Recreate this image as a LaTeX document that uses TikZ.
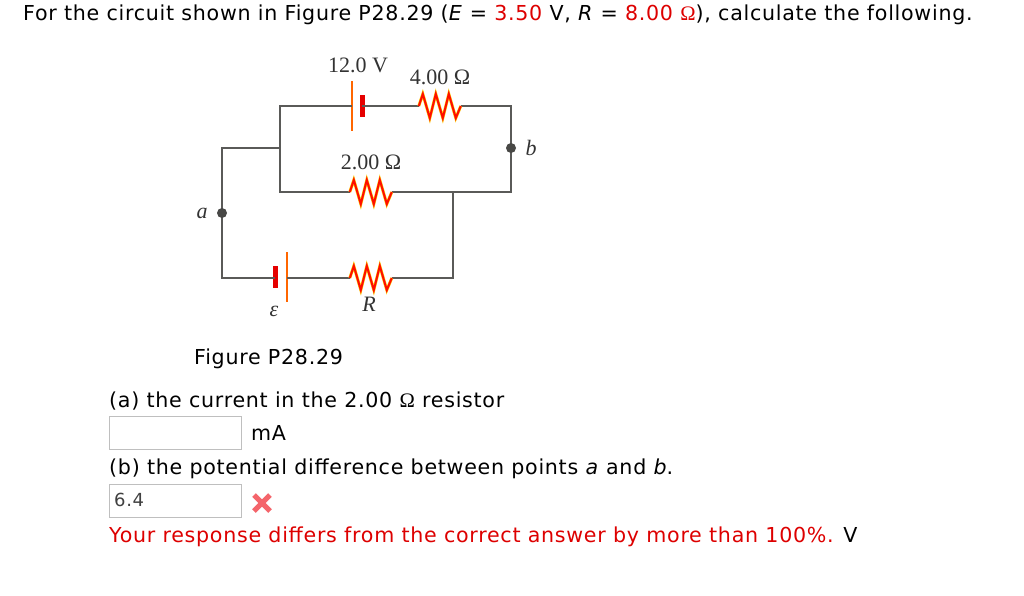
\documentclass[tikz,border=0pt]{standalone}
\usepackage{fontspec}
\setmainfont[LetterSpace=3.5]{DejaVu Sans}
\newfontfamily\figfont{Liberation Serif}
\usetikzlibrary{calc}
\definecolor{wirecol}{HTML}{5A5A58}
\definecolor{errred}{HTML}{DD0000}
\definecolor{crosscol}{HTML}{F4656B}
\tikzset{
  wire/.style={draw=wirecol, line width=1.6pt},
  zig/.style={draw=red!90!orange, line width=2pt, line join=miter, preaction={draw=yellow!60!orange, line width=3pt}},
  resistor/.style={inner sep=0pt, minimum width=42pt, minimum height=24pt},
  longplate/.style={fill=red!60!yellow, inner sep=0pt, minimum width=2pt, minimum height=50pt},
  shortplate/.style={fill=red!90!black, inner sep=0pt, minimum width=5pt, minimum height=22pt},
  terminal/.style={circle, fill=wirecol!80!black, inner sep=0pt, minimum size=10pt},
  figlabel/.style={font=\figfont\fontsize{22}{22}\selectfont, text=black!80, inner sep=0pt},
  txt/.style={anchor=base west, inner sep=0pt, font=\fontsize{20.6}{22}\selectfont},
  answerbox/.style={draw=black!25, line width=0.8pt, minimum width=132pt, minimum height=33pt, inner sep=0pt}
}
\newcommand{\zigzag}[1]{\draw[zig] (#1.west) -- ++(4,-12) -- ++(7,24) -- ++(6,-24) -- ++(7,24) -- ++(6,-24) -- ++(7,24) -- ++(5,-12);}
\newcommand{\ohm}{{\figfont\char"03A9}}
\begin{document}
\begin{tikzpicture}[x=1pt,y=-1pt]
\useasboundingbox (0,0) rectangle (1024,595);
% circuit
\node[longplate]  (batA) at (352,106) {};
\node[shortplate] (batB) at (362,106) {};
\node[resistor]   (resA) at (440,106) {};
\node[resistor]   (resB) at (371,192) {};
\node[resistor]   (resC) at (371,278) {};
\node[shortplate] (batC) at (275,277) {};
\node[longplate]  (batD) at (287,277) {};
\coordinate (tl) at (280,106);
\coordinate (tr) at (511,106);
\coordinate (ml) at (280,192);
\coordinate (mr) at (511,192);
\coordinate (jl) at (280,148);
\coordinate (sl) at (222,148);
\coordinate (jb) at (453,192);
\coordinate (bl) at (222,278);
\coordinate (br) at (453,278);
\draw[wire] (batA.center) -- (tl) -- (ml) -- (resB.west);
\draw[wire] (batB.center) -- (resA.west);
\draw[wire] (resA.east) -- (tr) -- (mr) -- (resB.east);
\draw[wire] (jl) -- (sl) -- (bl) -- (batC.center |- bl);
\draw[wire] (batD.center |- bl) -- (resC.west);
\draw[wire] (resC.east) -- (br) -- (jb);
\node[terminal]   (a)    at (222,213) {};
\node[terminal]   (b)    at (511,148) {};
\zigzag{resA}
\zigzag{resB}
\zigzag{resC}
\node[figlabel] (lblV)  at (358,65)  {12.0 V};
\node[figlabel] (lblA)  at (440,77)  {4.00 \ohm};
\node[figlabel] (lblB)  at (371,162) {2.00 \ohm};
\node[figlabel] (lbla)  at (202,213) {\itshape a};
\node[figlabel] (lblb)  at (531,148) {\itshape b};
\node[figlabel] (lble)  at (274,311) {\itshape ε};
\node[figlabel] (lblR)  at (369,304) {\itshape R};
% question text
\node[txt] (head) at (23,20) {For the circuit shown in Figure P28.29 (\textit{E} = \textcolor{errred}{3.50} V, \textit{R} = \textcolor{errred}{8.00 \ohm}), calculate the following.};
\node[txt] (fig)  at (194,364) {Figure P28.29};
\node[txt] (qa)   at (109,407) {(a) the current in the 2.00 \ohm{} resistor};
\node[answerbox] (boxA) at (175,433) {};
\node[txt] (unit) at (251,440) {mA};
\node[txt] (qb)   at (109,474) {(b) the potential difference between points \textit{a} and \textit{b}.};
\node[answerbox] (boxB) at (175,500.5) {};
\node[txt, text=black!75, font=\fontsize{18}{20}\selectfont] (val) at (114,506) {6.4};
\coordinate (cross) at (262,503);
\draw[crosscol, line width=5pt] ($(cross)+(-8,-8)$) -- ($(cross)+(8,8)$);
\draw[crosscol, line width=5pt] ($(cross)+(-8,8)$) -- ($(cross)+(8,-8)$);
\node[txt] (msg) at (109,542) {\textcolor{errred}{Your response differs from the correct answer by more than 100\%.} V};
\end{tikzpicture}
\end{document}
